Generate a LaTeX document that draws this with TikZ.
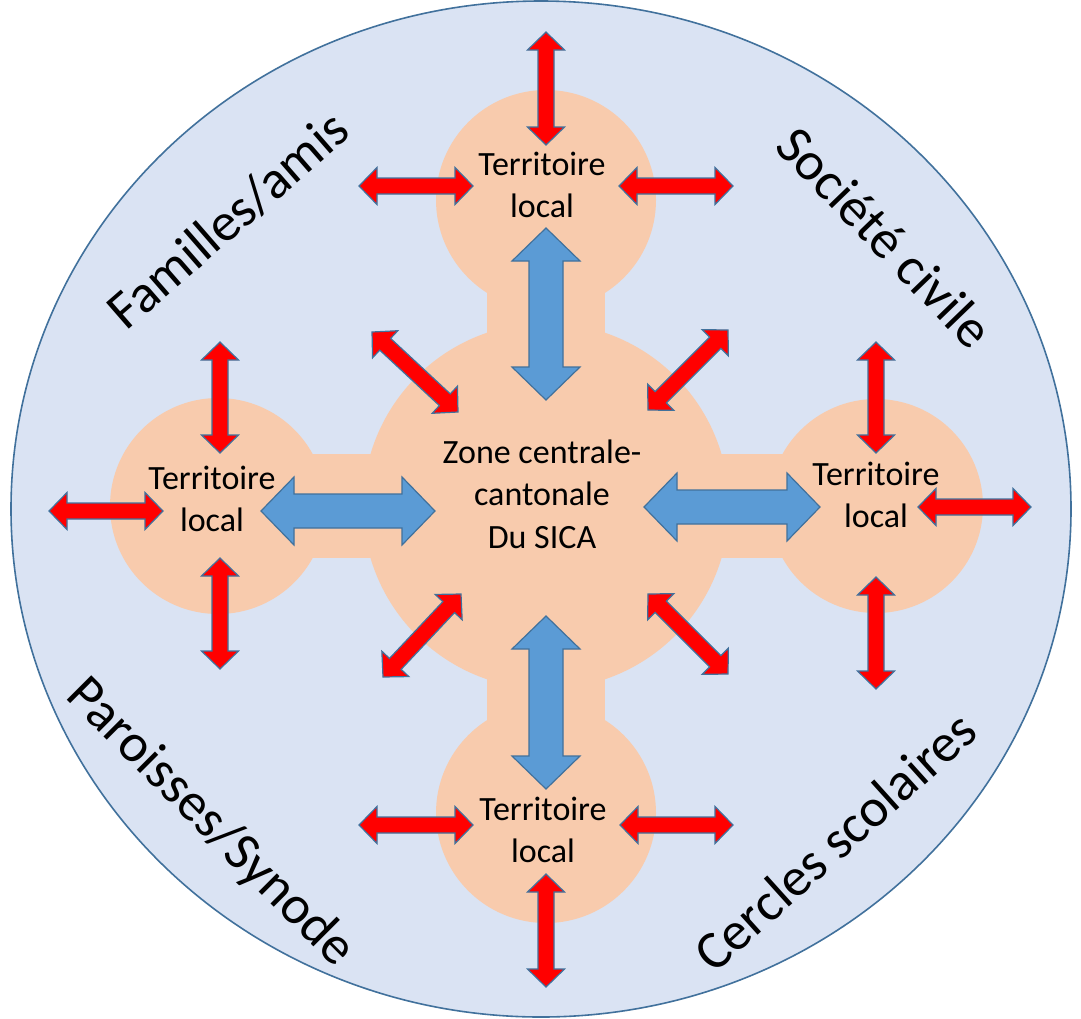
\documentclass[tikz,border=0pt]{standalone}
\usepackage{fontspec}
\setmainfont{Carlito}
\usetikzlibrary{calc}
\definecolor{cantonbg}{HTML}{DAE3F3}
\definecolor{cantonline}{HTML}{41719C}
\definecolor{zonefill}{HTML}{F8CBAD}
\definecolor{linkblue}{HTML}{5B9BD5}
\definecolor{flowred}{HTML}{FF0000}

% block arrow with two heads: style, node, offset, node, offset, head length, head half width, shaft half width
\newcommand{\dblarrow}[8]{%
  \path ($(#2)+(#3)$) coordinate (arr-a) ($(#4)+(#5)$) coordinate (arr-b);
  \draw[#1] (arr-a)
    -- ($(arr-a)!#6!(arr-b)!#7!90:(arr-b)$)
    -- ($(arr-a)!#6!(arr-b)!#8!90:(arr-b)$)
    -- ($(arr-b)!#6!(arr-a)!#8!270:(arr-a)$)
    -- ($(arr-b)!#6!(arr-a)!#7!270:(arr-a)$)
    -- (arr-b)
    -- ($(arr-b)!#6!(arr-a)!#7!90:(arr-a)$)
    -- ($(arr-b)!#6!(arr-a)!#8!90:(arr-a)$)
    -- ($(arr-a)!#6!(arr-b)!#8!270:(arr-b)$)
    -- ($(arr-a)!#6!(arr-b)!#7!270:(arr-b)$)
    -- cycle;}
\newcommand{\flowarrow}[4]{\dblarrow{flow}{#1}{#2}{#3}{#4}{9pt}{9.25pt}{4pt}}
\newcommand{\linkarrow}[4]{\dblarrow{link}{#1}{#2}{#3}{#4}{16.5pt}{17pt}{8.5pt}}

\begin{document}
\begin{tikzpicture}[x=0.5pt, y=-0.5pt,
    zone/.style={circle, fill=zonefill, inner sep=0pt},
    flow/.style={fill=flowred, draw=cantonline, line width=0.6pt},
    link/.style={fill=linkblue, draw=cantonline, line width=0.6pt},
    tag/.style={font=\fontsize{17}{21.3}\selectfont, align=center, inner sep=0pt},
    sector/.style={font=\fontsize{27}{32}\selectfont, inner sep=0pt}]
  \useasboundingbox (0,0) rectangle (1081,1018);
  \draw[fill=cantonbg, draw=cantonline, line width=0.8pt] (541,509) ellipse [x radius=530, y radius=508];

  % zones
  \node[zone, minimum size=183pt] (centre) at (546,506) {};
  \node[zone, minimum size=110pt] (top) at (546,200) {};
  \node[zone, minimum size=108pt] (left) at (218,506) {};
  \node[zone, minimum size=107pt] (right) at (876,506) {};
  \node[zone, minimum size=110pt] (bottom) at (546,813) {};
  \fill[zonefill] ($(top)+(-59,0)$) rectangle ($(centre)+(59,0)$);
  \fill[zonefill] ($(centre)+(-59,0)$) rectangle ($(bottom)+(59,0)$);
  \fill[zonefill] ($(left)+(0,-52)$) rectangle ($(centre)+(0,52)$);
  \fill[zonefill] ($(centre)+(0,-52)$) rectangle ($(right)+(0,52)$);

  \node[sector, rotate=41] (familles) at (228,220) {Familles/amis};
  \node[sector, rotate=-46] (societe) at (885,237) {Société civile};
  \node[sector, rotate=-45] (paroisses) at (210,823) {Paroisses/Synode};
  \node[sector, rotate=42] (cercles) at (835,841) {Cercles scolaires};

  \linkarrow{top}{0,28}{centre}{0,-106}
  \linkarrow{centre}{0,110}{bottom}{0,-24}
  \linkarrow{left}{43,5}{centre}{-111,5}
  \linkarrow{centre}{98,1}{right}{-56,1}

  \flowarrow{top}{0,-168}{top}{0,-55}
  \flowarrow{top}{-187,-14}{top}{-73,-14}
  \flowarrow{top}{73,-14}{top}{187,-14}
  \flowarrow{left}{2,-164}{left}{2,-53}
  \flowarrow{left}{2,52}{left}{2,163}
  \flowarrow{left}{-169,5}{left}{-55,5}
  \flowarrow{right}{0,-164}{right}{0,-53}
  \flowarrow{right}{0,71}{right}{0,183}
  \flowarrow{right}{42,1}{right}{155,1}
  \flowarrow{bottom}{-187,12}{bottom}{-73,12}
  \flowarrow{bottom}{74,12}{bottom}{187,12}
  \flowarrow{bottom}{0,61}{bottom}{0,174}
  \flowarrow{centre}{-174,-174}{centre}{-88,-94}
  \flowarrow{centre}{182,-176}{centre}{102,-96}
  \flowarrow{centre}{-85,88}{centre}{-163,171}
  \flowarrow{centre}{102,88}{centre}{182,168}

  \node[tag] (centre-txt) at ($(centre)+(-4,-12)$) {Zone centrale-\\cantonale\\Du SICA};
  \node[tag] (top-txt) at ($(top)+(-4,-15)$) {Territoire\\local};
  \node[tag] (left-txt) at ($(left)+(-6,-7)$) {Territoire\\local};
  \node[tag] (right-txt) at ($(right)+(0,-11)$) {Territoire\\local};
  \node[tag] (bottom-txt) at ($(bottom)+(-3,17)$) {Territoire\\local};
\end{tikzpicture}
\end{document}
